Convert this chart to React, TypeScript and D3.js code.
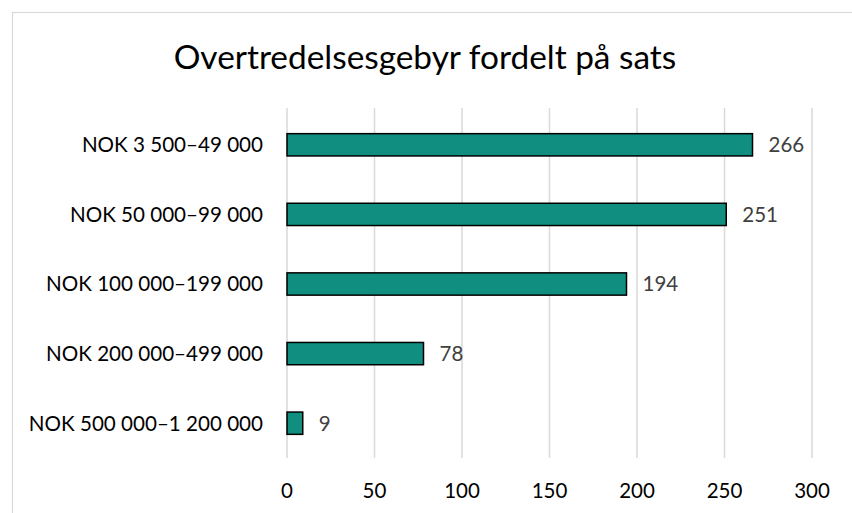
import React, { useRef, useEffect } from "react";
import * as d3 from "d3";

const categories = [
  "NOK 3 500–49 000",
  "NOK 50 000–99 000",
  "NOK 100 000–199 000",
  "NOK 200 000–499 000",
  "NOK 500 000–1 200 000",
];
const counts = [266, 251, 194, 78, 9];
const ticks = [0, 50, 100, 150, 200, 250, 300];
const title = "Overtredelsesgebyr fordelt på sats";

const FONT = "Lato, 'Open Sans', sans-serif";

function App() {
  const svgRef = useRef<SVGSVGElement>(null);

  useEffect(() => {
    const width = 852;
    const height = 513;
    const svg = d3.select(svgRef.current);
    svg.selectAll("*").remove();
    svg.attr("width", width).attr("height", height);

    svg.append("rect").attr("width", width).attr("height", height).attr("fill", "#fff");
    // chart area border (right/bottom edges fall outside the picture)
    svg
      .append("rect")
      .attr("x", 12.5)
      .attr("y", 12.5)
      .attr("width", 850)
      .attr("height", 510)
      .attr("fill", "none")
      .attr("stroke", "#d9d9d9")
      .attr("stroke-width", 1.2);

    const x = d3.scaleLinear().domain([0, 300]).range([287, 812]);
    const y = d3
      .scaleBand()
      .domain(categories)
      .range([110, 458])
      .paddingInner(0.68)
      .paddingOuter(0.34);

    svg
      .append("g")
      .selectAll("line")
      .data(ticks)
      .enter()
      .append("line")
      .attr("x1", (d) => x(d))
      .attr("x2", (d) => x(d))
      .attr("y1", 108)
      .attr("y2", 458)
      .attr("stroke", "#d9d9d9")
      .attr("stroke-width", 1.5);

    svg
      .append("g")
      .selectAll("text")
      .data(ticks)
      .enter()
      .append("text")
      .attr("x", (d) => x(d))
      .attr("y", 498)
      .attr("text-anchor", "middle")
      .style("font-family", FONT)
      .style("font-size", "20.5px")
      .attr("fill", "#000")
      .text((d) => d);

    const rows = categories.map((c, i) => ({ c, v: counts[i] }));

    svg
      .append("g")
      .selectAll("rect")
      .data(rows)
      .enter()
      .append("rect")
      .attr("x", x(0))
      .attr("y", (d) => y(d.c)!)
      .attr("width", (d) => x(d.v) - x(0))
      .attr("height", y.bandwidth())
      .attr("fill", "#108f80")
      .attr("stroke", "#000")
      .attr("stroke-width", 1.5);

    svg
      .append("g")
      .selectAll("text")
      .data(rows)
      .enter()
      .append("text")
      .attr("x", (d) => x(d.v) + 16)
      .attr("y", (d) => y(d.c)! + y.bandwidth() / 2)
      .attr("dy", "0.36em")
      .style("font-family", FONT)
      .style("font-size", "20.5px")
      .attr("fill", "#404040")
      .text((d) => d.v);

    svg
      .append("g")
      .selectAll("text")
      .data(categories)
      .enter()
      .append("text")
      .attr("x", 263)
      .attr("y", (d) => y(d)! + y.bandwidth() / 2)
      .attr("dy", "0.36em")
      .attr("text-anchor", "end")
      .style("font-family", FONT)
      .style("font-size", "20.6px")
      .attr("fill", "#000")
      .text((d) => d);

    svg
      .append("text")
      .attr("x", 425)
      .attr("y", 69)
      .attr("text-anchor", "middle")
      .style("font-family", FONT)
      .style("font-size", "33.4px")
      .attr("fill", "#000")
      .text(title);
  }, []);

  return <svg ref={svgRef} style={{ position: "absolute", left: 0, top: 0, display: "block" }}></svg>;
}

export default App;
